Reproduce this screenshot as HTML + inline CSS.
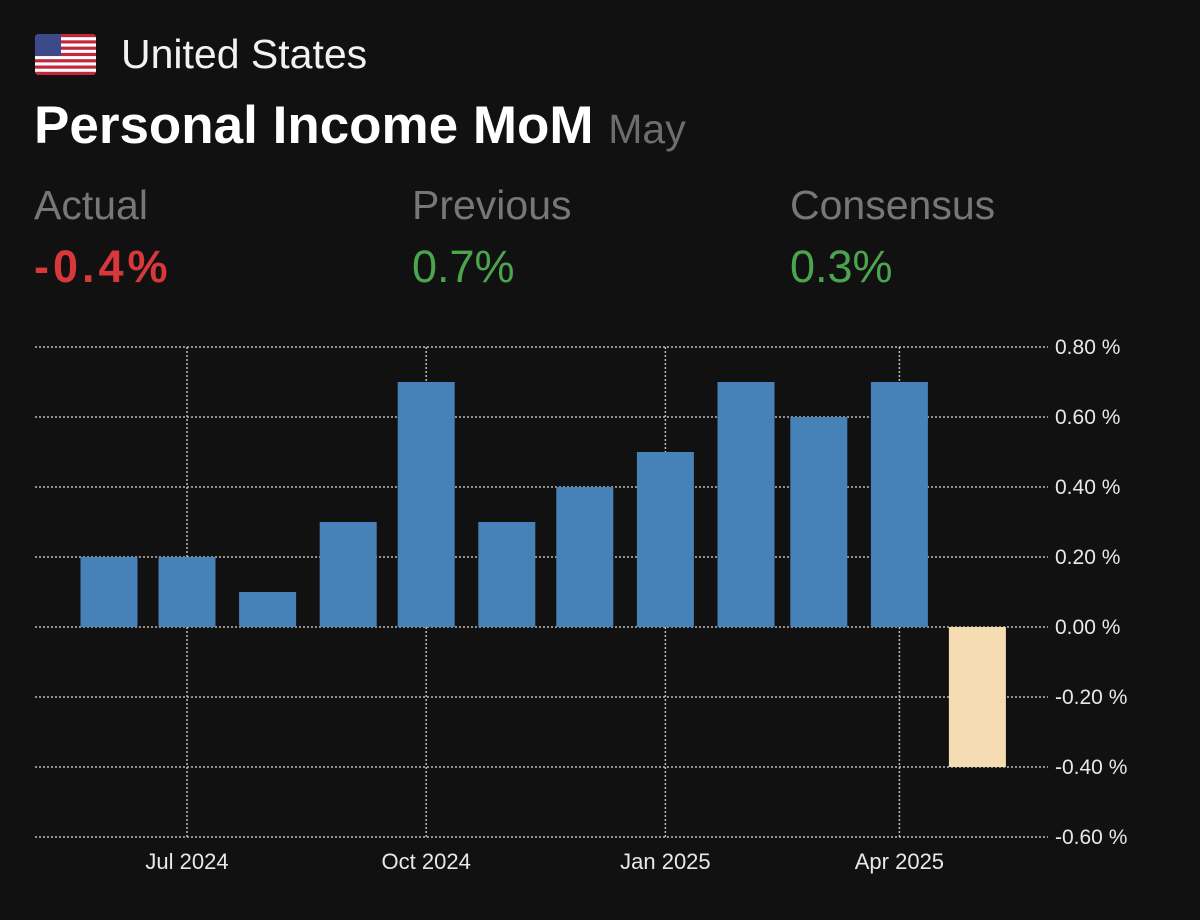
<!DOCTYPE html>
<html><head><meta charset="utf-8"><style>
body{margin:0;background:#121112;width:1200px;height:920px;overflow:hidden;font-family:"Liberation Sans",sans-serif;color:#fff;position:relative}
.a{position:absolute;white-space:nowrap}
</style></head><body>
<svg class="a" style="left:35px;top:34px" width="61" height="41" viewBox="0 0 61 41">
<defs><clipPath id="c"><rect width="61" height="41" rx="4"/></clipPath></defs>
<g clip-path="url(#c)"><rect width="61" height="41" fill="#fff"/>
<g fill="#c3283a"><rect y="0" width="61" height="3.2"/><rect y="6.3" width="61" height="3.2"/><rect y="12.6" width="61" height="3.2"/><rect y="18.9" width="61" height="3.2"/><rect y="25.2" width="61" height="3.2"/><rect y="31.5" width="61" height="3.2"/><rect y="37.8" width="61" height="3.2"/></g>
<rect width="26" height="22" fill="#3d4a8a"/></g></svg>
<div class="a" style="left:121px;top:31px;font-size:41px;color:#f2f2f2">United States</div>
<div class="a" style="left:34px;top:95px;font-size:53px;font-weight:bold">Personal Income MoM <span style="font-weight:normal;font-size:41px;color:#6d6d6d">May</span></div>
<div class="a" style="left:34px;top:182px;font-size:41px;color:#777">Actual</div>
<div class="a" style="left:34px;top:241px;font-size:45px;color:#d8383a;font-weight:bold;letter-spacing:4px">-0.4%</div>
<div class="a" style="left:412px;top:182px;font-size:41px;color:#777">Previous</div>
<div class="a" style="left:412px;top:241px;font-size:45px;color:#4aa54c">0.7%</div>
<div class="a" style="left:790px;top:182px;font-size:41px;color:#777">Consensus</div>
<div class="a" style="left:790px;top:241px;font-size:45px;color:#4aa54c">0.3%</div>
<svg id="ch" class="a" style="left:0;top:0" width="1200" height="920"></svg>
<script>
const months=["2024-06","2024-07","2024-08","2024-09","2024-10","2024-11","2024-12","2025-01","2025-02","2025-03","2025-04","2025-05"];
const values=[0.2,0.2,0.1,0.3,0.7,0.3,0.4,0.5,0.7,0.6,0.7,-0.4];
const yTicks=[0.8,0.6,0.4,0.2,0,-0.2,-0.4,-0.6];
const xTicks=["2024-07","2024-10","2025-01","2025-04"];
const xTickLabels=["Jul 2024","Oct 2024","Jan 2025","Apr 2025"];
const NS="http://www.w3.org/2000/svg",svg=document.getElementById('ch');
const t0=Date.UTC(2024,6,1);
function x(m){const [y,mo]=m.split('-').map(Number);return 187+(Date.UTC(y,mo-1,1)-t0)/864e5*2.6;}
function y(v){return 627-v*350;}
function mk(t,a){const e=document.createElementNS(NS,t);for(const k in a)e.setAttribute(k,a[k]);svg.appendChild(e);return e;}
yTicks.forEach(v=>{
 const l=mk('line',{x1:35,x2:1048,y1:y(v),y2:y(v),stroke:'#bbb','stroke-width':1.5,'stroke-dasharray':'2 2'});
 
 
 const t=mk('text',{x:1055,y:y(v)+7,fill:'#e8e8e8','font-size':21});
 t.textContent=v.toFixed(2)+' %';
 
 
});
xTicks.forEach((m,i)=>{
 const l=mk('line',{x1:x(m),x2:x(m),y1:347,y2:838,stroke:'#bbb','stroke-width':1.5,'stroke-dasharray':'2 2'});
 
 
 const t=mk('text',{x:x(m),y:869,fill:'#e8e8e8','font-size':22,'text-anchor':'middle'});
 t.textContent=xTickLabels[i];
 
 
});
months.forEach((m,i)=>{
 const v=values[i],cx=x(m),last=i===months.length-1;
 const r=mk('rect',{x:cx-28.5,width:57,y:Math.min(y(v),y(0)),height:Math.abs(y(v)-y(0)),fill:last?'#f5dbb2':'#4682b8'});
 
 
});
</script>
</body></html>
